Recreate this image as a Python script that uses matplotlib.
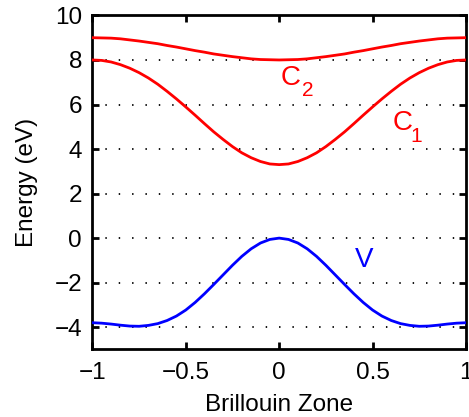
import matplotlib
matplotlib.use('Agg')
import matplotlib.pyplot as plt
import numpy as np

# band energies, k in units of the zone edge
k = [-1.0, -0.95, -0.9, -0.85, -0.8, -0.75, -0.7, -0.65, -0.6, -0.55, -0.5,
     -0.45, -0.4, -0.35, -0.3, -0.25, -0.2, -0.15, -0.1, -0.05, 0.0,
     0.05, 0.1, 0.15, 0.2, 0.25, 0.3, 0.35, 0.4, 0.45, 0.5,
     0.55, 0.6, 0.65, 0.7, 0.75, 0.8, 0.85, 0.9, 0.95, 1.0]

C2 = [9.00, 8.99, 8.98, 8.95, 8.90, 8.85, 8.79, 8.73, 8.65, 8.58, 8.50,
      8.42, 8.35, 8.27, 8.21, 8.15, 8.10, 8.05, 8.02, 8.01, 8.00,
      8.01, 8.02, 8.05, 8.10, 8.15, 8.21, 8.27, 8.35, 8.42, 8.50,
      8.58, 8.65, 8.73, 8.79, 8.85, 8.90, 8.95, 8.98, 8.99, 9.00]

C1 = [8.00, 7.98, 7.91, 7.79, 7.63, 7.43, 7.19, 6.91, 6.59, 6.25, 5.89,
      5.52, 5.14, 4.77, 4.43, 4.11, 3.83, 3.61, 3.44, 3.33, 3.30,
      3.33, 3.44, 3.61, 3.83, 4.11, 4.43, 4.77, 5.14, 5.52, 5.89,
      6.25, 6.59, 6.91, 7.19, 7.43, 7.63, 7.79, 7.91, 7.98, 8.00]

V = [-3.80, -3.82, -3.86, -3.91, -3.95, -3.96, -3.92, -3.84, -3.70, -3.50, -3.23,
     -2.89, -2.50, -2.08, -1.65, -1.22, -0.82, -0.48, -0.22, -0.06, 0.00,
     -0.06, -0.22, -0.48, -0.82, -1.22, -1.65, -2.08, -2.50, -2.89, -3.23,
     -3.50, -3.70, -3.84, -3.92, -3.96, -3.95, -3.91, -3.86, -3.82, -3.80]

x_ticks = [-1, -0.5, 0, 0.5, 1]
x_ticklabels = ['\u22121', '\u22120.5', '0', '0.5', '1']
y_ticks = [-4, -2, 0, 2, 4, 6, 8, 10]

plt.rcParams['font.family'] = ['Liberation Sans', 'DejaVu Sans']

fig = plt.figure(figsize=(4.69, 4.17), dpi=100)
ax = fig.add_axes([0.197, 0.162, 0.7965, 0.801])

# dotted y grid
for y in y_ticks[:-1]:
    ax.axhline(y, color='k', linewidth=1.3, linestyle=(0, (0.8, 6.6)), zorder=1)

ax.plot(k, C2, color='#ff0000', linewidth=2.0, zorder=3)
ax.plot(k, C1, color='#ff0000', linewidth=2.0, zorder=3)
ax.plot(k, V, color='#0000ff', linewidth=2.0, zorder=3)

# band labels, subscripts placed by hand (lowered like the original)
ax.text(0.01, 7.18, 'C', color='#ff0000', fontsize=20, va='center', ha='left')
ax.text(0.122, 6.62, '2', color='#ff0000', fontsize=15, va='center', ha='left')
ax.text(0.608, 5.16, 'C', color='#ff0000', fontsize=20, va='center', ha='left')
ax.text(0.70, 4.58, '1', color='#ff0000', fontsize=15, va='center', ha='left')
ax.text(0.406, -0.99, 'V', color='#0000ff', fontsize=20, va='center', ha='left')

ax.set_xlim(-1, 1)
ax.set_ylim(-5, 10)
ax.set_xticks(x_ticks)
ax.set_xticklabels(x_ticklabels)
ax.set_yticks(y_ticks)
ax.set_yticklabels([str(t).replace('-', '\u2212') for t in y_ticks])
ax.tick_params(direction='in', length=5, width=2, labelsize=17.5,
               top=True, right=True)
ax.tick_params(axis='x', pad=9)
ax.tick_params(axis='y', pad=7.5)
for s in ax.spines.values():
    s.set_linewidth(2)

ax.set_xlabel('Brillouin Zone', fontsize=17.5, labelpad=7)
ax.set_ylabel('Energy (eV)', fontsize=17.5, labelpad=12)

plt.savefig('out.png', dpi=100)
